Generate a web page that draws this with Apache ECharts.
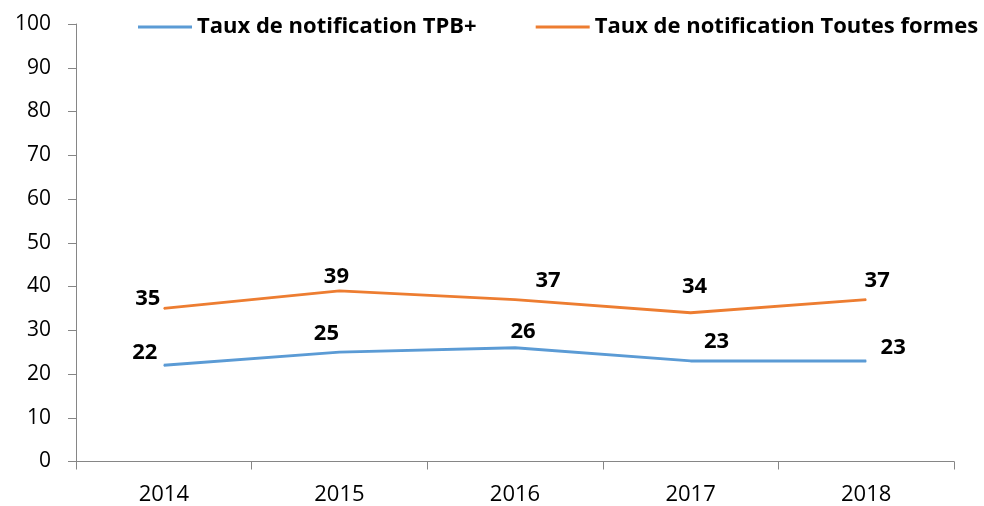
<!DOCTYPE html>
<html>
<head>
<meta charset="utf-8">
<style>
  html, body { margin: 0; padding: 0; background: #fff; }
  #main { width: 984px; height: 506px; }
</style>
<script src="https://cdn.jsdelivr.net/npm/echarts@6/dist/echarts.min.js"></script>
</head>
<body>
<div id="main"></div>
<script>
// données
var years = ['2014', '2015', '2016', '2017', '2018'];
var tauxTPB = [22, 25, 26, 23, 23];
var tauxToutes = [35, 39, 37, 34, 37];
var yTicks = [0, 10, 20, 30, 40, 50, 60, 70, 80, 90, 100];

// décalage des étiquettes (comme dans l'original)
var offsetsTPB = [[-19, -13], [-13, -18], [8, -16], [26, -19], [27, -13]];
var offsetsToutes = [[-16, -10], [-3, -14], [33, -19], [4, -26], [11, -19]];

var font = '"Open Sans", "Noto Sans", sans-serif';

function withLabels(values, offsets) {
  return values.map(function (v, i) {
    return { value: v, label: { offset: offsets[i] } };
  });
}

var myChart = echarts.init(document.getElementById('main'));
var option = {
  animation: false,
  textStyle: { fontFamily: font },
  grid: { left: 76, right: 30, top: 24, bottom: 44.5 },
  legend: {
    left: 138,
    top: 16,
    padding: 0,
    itemWidth: 54,
    itemHeight: 3,
    itemGap: 59,
    icon: 'rect',
    textStyle: { fontFamily: font, fontSize: 22, fontWeight: 'bold', color: '#000' },
    data: ['Taux de notification TPB+', 'Taux de notification Toutes formes']
  },
  xAxis: {
    type: 'category',
    data: years,
    boundaryGap: true,
    axisLine: { lineStyle: { color: '#868686', width: 1 } },
    axisTick: { show: true, length: 8, lineStyle: { color: '#868686' } },
    axisLabel: { color: '#000', fontSize: 22, margin: 22, fontFamily: font }
  },
  yAxis: {
    type: 'value',
    min: yTicks[0],
    max: yTicks[yTicks.length - 1],
    interval: 10,
    splitLine: { show: false },
    axisLine: { show: true, lineStyle: { color: '#868686', width: 1 } },
    axisTick: { show: true, length: 8, lineStyle: { color: '#868686' } },
    axisLabel: { color: '#000', fontSize: 21, margin: 25, fontFamily: font }
  },
  series: [
    {
      name: 'Taux de notification TPB+',
      type: 'line',
      data: withLabels(tauxTPB, offsetsTPB),
      symbol: 'circle',
      symbolSize: 1,
      lineStyle: { color: '#5B9BD5', width: 3 },
      itemStyle: { color: '#5B9BD5' },
      label: {
        show: true, position: 'inside', color: '#000',
        fontSize: 22, fontWeight: 'bold', fontFamily: font
      }
    },
    {
      name: 'Taux de notification Toutes formes',
      type: 'line',
      data: withLabels(tauxToutes, offsetsToutes),
      symbol: 'circle',
      symbolSize: 1,
      lineStyle: { color: '#ED7D31', width: 3 },
      itemStyle: { color: '#ED7D31' },
      label: {
        show: true, position: 'inside', color: '#000',
        fontSize: 22, fontWeight: 'bold', fontFamily: font
      }
    }
  ]
};
myChart.setOption(option);
</script>
</body>
</html>
